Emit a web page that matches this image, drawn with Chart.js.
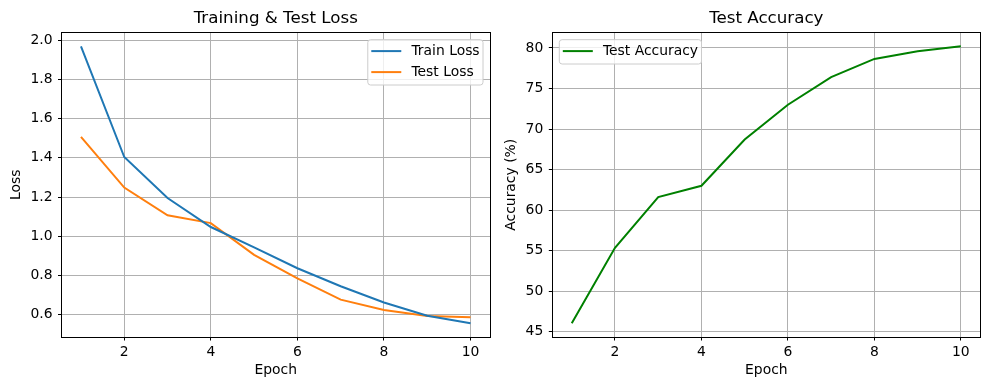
<!DOCTYPE html>
<html><head><meta charset="utf-8">
<script src="https://cdn.jsdelivr.net/npm/chart.js@4.4.1/dist/chart.umd.min.js"></script>
<style>
html,body{margin:0;padding:0;background:#fff;overflow:hidden}
#wrap{position:relative;width:990px;height:390px;background:#fff}
canvas{position:absolute;top:0}
</style></head><body>
<div id="wrap">
<canvas id="c1" width="495" height="390" style="left:0;width:495px;height:390px"></canvas>
<canvas id="c2" width="495" height="390" style="left:495px;width:495px;height:390px"></canvas>
</div>
<script>
const epochs = [1, 2, 3, 4, 5, 6, 7, 8, 9, 10];
const trainLoss = [1.968, 1.404, 1.195, 1.047, 0.943, 0.837, 0.745, 0.662, 0.595, 0.557];
const testLoss = [1.507, 1.248, 1.107, 1.067, 0.905, 0.785, 0.677, 0.624, 0.594, 0.587];
const testAcc = [46.05, 55.35, 61.6, 63.0, 68.7, 73.0, 76.4, 78.65, 79.6, 80.2];
const epochTicks = [2, 4, 6, 8, 10];
const lossTicks = [0.6, 0.8, 1.0, 1.2, 1.4, 1.6, 1.8, 2.0];
const accTicks = [45, 50, 55, 60, 65, 70, 75, 80];

const FAMILY = "'DejaVu Sans', sans-serif";
const F = {family: FAMILY, size: 13.9};
const FT = {family: FAMILY, size: 16.7, weight: 'normal'};
Chart.defaults.color = '#000';
Chart.defaults.font.family = FAMILY;

function lims(arrs) {
  const all = [].concat(...arrs);
  const lo = Math.min(...all), hi = Math.max(...all), r = hi - lo;
  return [lo - 0.05 * r, hi + 0.05 * r];
}
const pts = ys => ys.map((y, i) => ({x: epochs[i], y}));

const framePlugin = {
  id: 'frame',
  afterDatasetsDraw(chart) {
    const {ctx, chartArea: a} = chart;
    ctx.save();
    ctx.strokeStyle = '#000';
    ctx.lineWidth = 1;
    const l = Math.floor(a.left) + 0.5, t = Math.floor(a.top) + 0.5;
    const r = Math.floor(a.right) + 0.5, b = Math.floor(a.bottom) + 0.5;
    ctx.strokeRect(l, t, r - l, b - t);
    ctx.restore();
  }
};

const legendPlugin = {
  id: 'mplLegend',
  afterDraw(chart, args, opts) {
    const {ctx, chartArea: a} = chart;
    const items = chart.data.datasets.map(d => ({label: d.label, color: d.borderColor}));
    ctx.save();
    ctx.font = `13.9px ${FAMILY}`;
    const tw = Math.max(...items.map(it => ctx.measureText(it.label).width));
    const textOff = 43.6;
    const w = textOff + tw + 3.4;
    const h = 24.3 + 21 * (items.length - 1);
    const x = opts.side === 'right' ? a.right - 7 - w : a.left + 7;
    const y = a.top + 7.2;
    ctx.beginPath();
    ctx.roundRect(x, y, w, h, 2.8);
    ctx.fillStyle = 'rgba(255,255,255,0.8)';
    ctx.fill();
    ctx.strokeStyle = '#cccccc';
    ctx.lineWidth = 1;
    ctx.stroke();
    items.forEach((it, i) => {
      const cy = y + 11.4 + 21 * i;
      ctx.beginPath();
      ctx.moveTo(x + 3.5, cy);
      ctx.lineTo(x + 33.5, cy);
      ctx.strokeStyle = it.color;
      ctx.lineWidth = 2;
      ctx.stroke();
      ctx.fillStyle = '#000';
      ctx.textBaseline = 'middle';
      ctx.textAlign = 'left';
      ctx.fillText(it.label, x + textOff, cy);
    });
    ctx.restore();
  }
};

function makeChart(id, cfg) {
  const [xmin, xmax] = lims([epochs]);
  const [ymin, ymax] = lims(cfg.series.map(s => s.data));
  return new Chart(document.getElementById(id), {
    type: 'line',
    data: {
      datasets: cfg.series.map(s => ({
        label: s.label, data: pts(s.data), borderColor: s.color, backgroundColor: s.color,
        borderWidth: 2, pointRadius: 0, pointHoverRadius: 0, tension: 0, fill: false
      }))
    },
    options: {
      responsive: false, animation: false, devicePixelRatio: 1,
      layout: {padding: {left: 0, right: cfg.padRight, top: 0, bottom: 0}},
      plugins: {
        legend: {display: false}, tooltip: {enabled: false},
        title: {display: true, text: cfg.title, color: '#000', font: FT, fullSize: false,
          padding: {top: 8.5, bottom: 3.96}},
        mplLegend: {side: cfg.legendSide}
      },
      scales: {
        x: {
          type: 'linear', min: xmin, max: xmax,
          afterBuildTicks: s => { s.ticks = epochTicks.map(v => ({value: v})); },
          afterFit: s => { s.height = 53; },
          ticks: {font: F, color: '#000', padding: 3.7, maxRotation: 0, autoSkip: false,
            callback: v => String(v)},
          grid: {color: '#b0b0b0', lineWidth: 1, tickColor: '#000', tickLength: 3.5, tickWidth: 1},
          border: {display: false},
          title: {display: true, text: 'Epoch', color: '#000', font: F, padding: {top: 0, bottom: 10.8}}
        },
        y: {
          type: 'linear', min: ymin, max: ymax,
          afterBuildTicks: s => { s.ticks = cfg.yTicks.map(v => ({value: v})); },
          afterFit: s => { s.width = cfg.yWidth; },
          ticks: {font: F, color: '#000', padding: 5.5, autoSkip: false, callback: cfg.fmt},
          grid: {color: '#b0b0b0', lineWidth: 1, tickColor: '#000', tickLength: 3.5, tickWidth: 1},
          border: {display: false},
          title: {display: true, text: cfg.yTitle, color: '#000', font: F, padding: {top: 8, bottom: 0}}
        }
      }
    },
    plugins: [framePlugin, legendPlugin]
  });
}

makeChart('c1', {
  title: 'Training & Test Loss', yTitle: 'Loss', yTicks: lossTicks, fmt: v => v.toFixed(1),
  yWidth: 61.5, padRight: 5, legendSide: 'right',
  series: [
    {label: 'Train Loss', data: trainLoss, color: '#1f77b4'},
    {label: 'Test Loss', data: testLoss, color: '#ff7f0e'}
  ]
});
makeChart('c2', {
  title: 'Test Accuracy', yTitle: 'Accuracy (%)', yTicks: accTicks, fmt: v => String(v),
  yWidth: 57.3, padRight: 9.7, legendSide: 'left',
  series: [
    {label: 'Test Accuracy', data: testAcc, color: '#008000'}
  ]
});
</script>
</body></html>
